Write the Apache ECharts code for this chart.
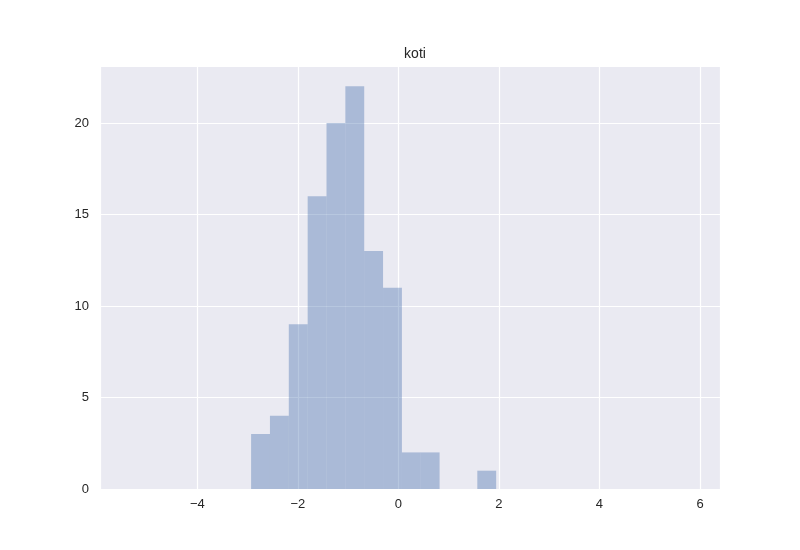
<!DOCTYPE html>
<html>
<head>
<meta charset="utf-8">
<script src="https://cdn.jsdelivr.net/npm/echarts@6/dist/echarts.min.js"></script>
<style>
  html, body { margin: 0; padding: 0; background: #fff; }
  #chart { width: 800px; height: 550px; }
</style>
</head>
<body>
<div id="chart"></div>
<script>
// histogram bins: left edges, common width, counts
let binStart = -2.93
let binWidth = 0.375
let counts = [3, 4, 9, 16, 20, 22, 13, 11, 2, 2, 0, 0, 1]
let xRange = [-5.936, 6.398]
let yRange = [0, 23.11]
let titleText = 'koti'

let bins = counts.map(function (c, i) {
  let lo = binStart + i * binWidth
  return [lo, lo + binWidth, c]
})

let chart = echarts.init(document.getElementById('chart'))
let font = '"Liberation Sans", Arial, sans-serif'

let option = {
  animation: false,
  backgroundColor: '#fff',
  title: {
    text: titleText,
    left: 410,
    textAlign: 'center',
    top: 42,
    textStyle: { fontFamily: font, fontSize: 14, fontWeight: 'normal', color: '#262626' }
  },
  grid: {
    left: 100, right: 80, top: 66, bottom: 61,
    show: true, backgroundColor: '#EAEAF2', borderWidth: 0
  },
  xAxis: {
    type: 'value',
    min: xRange[0],
    max: xRange[1],
    splitNumber: 5,
    axisLine: { show: false },
    axisTick: { show: false },
    splitLine: { lineStyle: { color: '#fff', width: 1.2 } },
    axisLabel: {
      showMinLabel: false, showMaxLabel: false,
      margin: 9,
      fontFamily: font, fontSize: 13, color: '#262626',
      formatter: function (v) { return String(v).replace('-', '\u2212') }
    }
  },
  yAxis: {
    type: 'value',
    min: yRange[0],
    max: yRange[1],
    interval: 5,
    axisLine: { show: false },
    axisTick: { show: false },
    splitLine: { lineStyle: { color: '#fff', width: 1.2 } },
    axisLabel: {
      showMaxLabel: false,
      margin: 11,
      fontFamily: font, fontSize: 13, color: '#262626'
    }
  },
  series: [{
    type: 'custom',
    data: bins,
    renderItem: function (params, api) {
      let p0 = api.coord([api.value(0), api.value(2)])
      let p1 = api.coord([api.value(1), 0])
      return {
        type: 'rect',
        shape: { x: p0[0], y: p0[1], width: p1[0] - p0[0], height: p1[1] - p0[1] },
        style: { fill: 'rgba(76,114,176,0.4)' }
      }
    }
  }]
}
chart.setOption(option)
</script>
</body>
</html>
